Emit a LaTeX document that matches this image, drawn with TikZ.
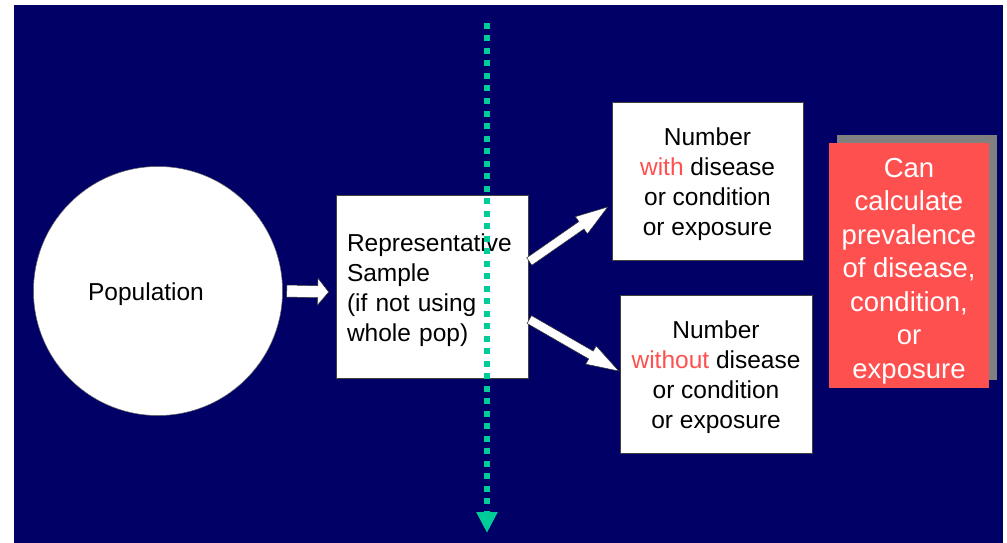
\documentclass[tikz,border=0pt]{standalone}
\usepackage{fontspec}
\setmainfont{Liberation Sans}
\usetikzlibrary{calc,arrows.meta}
\definecolor{navy}{HTML}{000066}
\definecolor{salmon}{HTML}{FF5050}
\definecolor{teal}{HTML}{00CC99}
\definecolor{shadowgray}{HTML}{808080}
\newcommand\blockarr[5]{% start, tip, head length, shaft half width, head half width
  \coordinate (ba-s) at (#1);
  \coordinate (ba-t) at (#2);
  \coordinate (ba-h) at ($(ba-t)!#3!(ba-s)$);
  \draw[blockarrow] ($(ba-s)!#4!90:(ba-t)$) -- ($(ba-h)!#4!90:(ba-t)$) -- ($(ba-h)!#5!90:(ba-t)$) -- (ba-t) -- ($(ba-h)!#5!-90:(ba-t)$) -- ($(ba-h)!#4!-90:(ba-t)$) -- ($(ba-s)!#4!-90:(ba-t)$) -- cycle;
}
\begin{document}
\begin{tikzpicture}[x=1pt,y=-1pt,
  whitebox/.style={draw=black!75, line width=0.6pt, fill=white, inner sep=0pt},
  boxtext/.style={inner sep=0pt, font=\fontsize{24.5}{30}\selectfont},
  blockarrow/.style={draw=black!80, line width=0.5pt, fill=white, line join=miter},
  dotline/.style={draw=teal, line width=6pt, dash pattern=on 6pt off 6.5pt, -{Triangle[width=20pt,length=21pt,fill=teal]}}]
\useasboundingbox (0,0) rectangle (1007,543);
\fill[white] (0,0) rectangle (1007,543);
\fill[navy] (14,5) rectangle (1003,543);
% population
\node[circle, fill=white, draw=black!60, line width=0.5pt, minimum size=249pt, inner sep=0pt] (pop) at (158,291) {};
\node[boxtext] (poplabel) at ($(pop.center)+(-12,3)$) {Population};
% sample
\node[whitebox, minimum width=192pt, minimum height=183pt] (sample) at (432,286.5) {};
\node[boxtext, text width=170pt, align=left] (sampletext) at ($(sample.center)+(0,4)$)
  {Representative\\Sample\\(if not using\\whole pop)};
% outcome boxes
\node[whitebox, minimum width=191pt, minimum height=158pt] (with) at (707.5,181) {};
\node[boxtext, align=center] (withtext) at ($(with.center)+(0,3.5)$)
  {Number\\\textcolor{salmon}{with} disease\\or condition\\or exposure};
\node[whitebox, minimum width=192pt, minimum height=158pt] (without) at (716,374) {};
\node[boxtext, align=center] (withouttext) at ($(without.center)+(0,3.5)$)
  {Number\\\textcolor{salmon}{without} disease\\or condition\\or exposure};
% conclusion box with shadow
\node[fill=shadowgray, minimum width=160pt, minimum height=245pt, inner sep=0pt] (shadow) at (917,257.5) {};
\node[fill=salmon, minimum width=160pt, minimum height=245pt, inner sep=0pt] (prev) at (909,265.5) {};
\node[inner sep=0pt, text=white, align=center, font=\fontsize{27.5}{33.5}\selectfont] (prevtext) at ($(prev.center)+(0,5.5)$)
  {Can\\calculate\\prevalence\\of disease,\\condition,\\or\\exposure};
% arrows
\coordinate (a0s) at ($(pop.east)+(4,0)$);
\coordinate (a0t) at ($(sample.west)+(-7,5.5)$);
\blockarr{a0s}{a0t}{11pt}{6pt}{13.5pt}
\coordinate (a1s) at ($(sample.east)+(1,-25)$);
\coordinate (a1t) at ($(with.west)+(-4,26)$);
\blockarr{a1s}{a1t}{32pt}{4.5pt}{10.5pt}
\coordinate (a2s) at ($(sample.east)+(1,33)$);
\coordinate (a2t) at ($(without.west)+(-1,-3)$);
\blockarr{a2s}{a2t}{32pt}{4.5pt}{10.5pt}
% dotted divider
\coordinate (dtop) at (487,23);
\coordinate (dbot) at (487,533);
\draw[dotline] (dtop) -- (dbot);
\end{tikzpicture}
\end{document}
